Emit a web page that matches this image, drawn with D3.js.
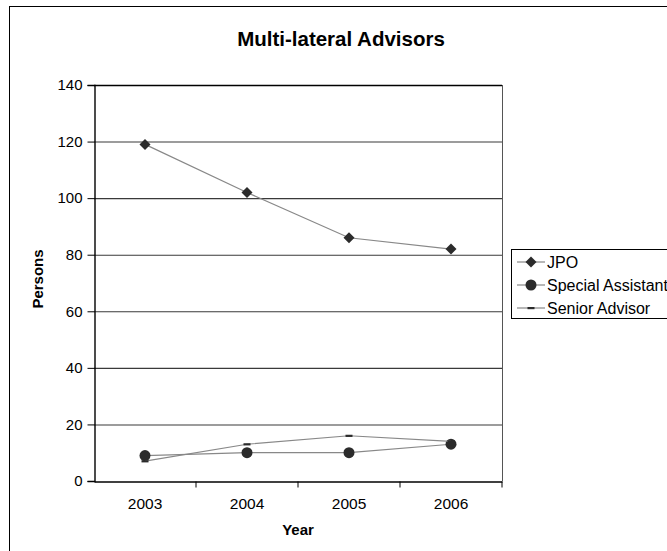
<!DOCTYPE html>
<html>
<head>
<meta charset="utf-8">
<script src="https://cdn.jsdelivr.net/npm/d3@7"></script>
<style>
  html, body { margin: 0; padding: 0; background: #fff; }
  svg { display: block; font-family: "Liberation Sans", Arial, sans-serif; }
</style>
</head>
<body>
<svg id="chart" width="667" height="551"></svg>
<script>
// Persons per year by advisor type
const years = ["2003", "2004", "2005", "2006"];
const jpo = [119, 102, 86, 82];
const specialAssistant = [9, 10, 10, 13];
const seniorAdvisor = [7, 13, 16, 14];
const yTicks = [0, 20, 40, 60, 80, 100, 120, 140];
const seriesNames = ["JPO", "Special Assistant", "Senior Advisor"];

const svg = d3.select("#chart");

// Chart frame (extends past the right and bottom edges)
svg.append("rect")
  .attr("x", 9.5).attr("y", 6.5)
  .attr("width", 700).attr("height", 600)
  .attr("fill", "#fff").attr("stroke", "#000").attr("stroke-width", 1);

const plot = { left: 94, right: 502, top: 85, bottom: 481 };

const x = d3.scaleBand().domain(years).range([plot.left, plot.right]).padding(0);
const y = d3.scaleLinear().domain([0, 140]).range([plot.bottom, plot.top]);

// Horizontal gridlines
svg.append("g").selectAll("line")
  .data(yTicks.filter(d => d > 0))
  .join("line")
  .attr("x1", plot.left).attr("x2", plot.right)
  .attr("y1", d => y(d) + 0.5).attr("y2", d => y(d) + 0.5)
  .attr("stroke", d => d === 140 ? "#000" : "#3a3a3a")
  .attr("stroke-width", d => d === 140 ? 1.6 : 1.1);

// Right edge of plot area
svg.append("line")
  .attr("x1", plot.right + 0.5).attr("x2", plot.right + 0.5)
  .attr("y1", plot.top).attr("y2", plot.bottom)
  .attr("stroke", "#555").attr("stroke-width", 1);

// Y axis
const yAxis = d3.axisLeft(y).tickValues(yTicks).tickSize(7).tickPadding(5);
const gy = svg.append("g")
  .attr("transform", `translate(${plot.left + 0.5},0)`)
  .call(yAxis);
gy.select(".domain").attr("stroke", "#000").attr("stroke-width", 1.4);
gy.selectAll(".tick line").attr("stroke", "#000");
gy.selectAll(".tick text")
  .attr("font-size", 15).attr("fill", "#000")
  .attr("font-family", "Liberation Sans, Arial, sans-serif");

// X axis: ticks between categories
const xAxis = d3.axisBottom(x).tickSize(0).tickPadding(16);
const gx = svg.append("g")
  .attr("transform", `translate(0,${plot.bottom + 0.5})`)
  .call(xAxis);
gx.select(".domain").attr("stroke", "#000").attr("stroke-width", 1.6);
gx.selectAll(".tick text")
  .attr("font-size", 15.5).attr("fill", "#000")
  .attr("font-family", "Liberation Sans, Arial, sans-serif");
gx.append("g").selectAll("line")
  .data(years)
  .join("line")
  .attr("x1", d => x(d) + x.bandwidth())
  .attr("x2", d => x(d) + x.bandwidth())
  .attr("y1", 0).attr("y2", 6)
  .attr("stroke", "#000");

// Titles
svg.append("text")
  .attr("x", 341).attr("y", 46)
  .attr("text-anchor", "middle")
  .attr("font-size", 20.5).attr("font-weight", "bold")
  .text("Multi-lateral Advisors");

svg.append("text")
  .attr("x", 298).attr("y", 535)
  .attr("text-anchor", "middle")
  .attr("font-size", 15).attr("font-weight", "bold")
  .text("Year");

svg.append("text")
  .attr("transform", `translate(43,${(plot.top + plot.bottom) / 2 - 4}) rotate(-90)`)
  .attr("text-anchor", "middle")
  .attr("font-size", 15).attr("font-weight", "bold")
  .text("Persons");

// Series
const cx = d => x(d) + x.bandwidth() / 2;
const line = d3.line().x(d => cx(d.year)).y(d => y(d.value));
const toPoints = vals => years.map((yr, i) => ({ year: yr, value: vals[i] }));

const series = [
  { name: seriesNames[0], values: toPoints(jpo), marker: "diamond" },
  { name: seriesNames[1], values: toPoints(specialAssistant), marker: "circle" },
  { name: seriesNames[2], values: toPoints(seniorAdvisor), marker: "dash" }
];

const markerColor = "#2b2b2b";
function drawMarker(g, type, px, py) {
  if (type === "diamond") {
    g.append("path")
      .attr("d", `M${px},${py - 5.5} L${px + 5.5},${py} L${px},${py + 5.5} L${px - 5.5},${py} Z`)
      .attr("fill", markerColor);
  } else if (type === "circle") {
    g.append("circle").attr("cx", px).attr("cy", py).attr("r", 5.5)
      .attr("fill", markerColor);
  } else {
    g.append("rect").attr("x", px - 3.5).attr("y", py - 1).attr("width", 7).attr("height", 2.2)
      .attr("fill", markerColor);
  }
}

series.forEach(s => {
  const g = svg.append("g");
  g.append("path")
    .datum(s.values)
    .attr("d", line)
    .attr("fill", "none")
    .attr("stroke", "#888")
    .attr("stroke-width", 1.2);
  s.values.forEach(p => drawMarker(g, s.marker, cx(p.year), y(p.value)));
});

// Legend
const legend = svg.append("g");
legend.append("rect")
  .attr("x", 511.5).attr("y", 249.5)
  .attr("width", 200).attr("height", 69)
  .attr("fill", "#fff").attr("stroke", "#000");

series.forEach((s, i) => {
  const ly = 262 + i * 23;
  const g = legend.append("g");
  g.append("line")
    .attr("x1", 517).attr("x2", 545)
    .attr("y1", ly).attr("y2", ly)
    .attr("stroke", "#888").attr("stroke-width", 1.2);
  drawMarker(g, s.marker, 531, ly);
  g.append("text")
    .attr("x", 547).attr("y", ly + 5.5)
    .attr("font-size", 16)
    .text(s.name);
});
</script>
</body>
</html>
